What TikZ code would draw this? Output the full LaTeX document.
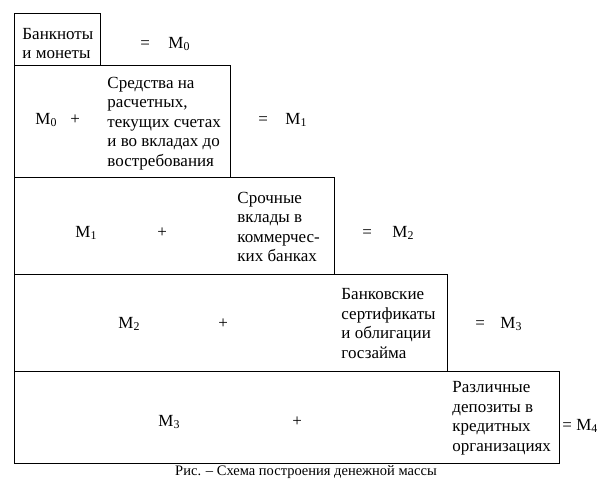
\documentclass[tikz,border=0pt]{standalone}
\usepackage{fontspec}
\setmainfont{Liberation Serif}
\newcommand{\Msub}[1]{M\textsubscript{#1}}

\begin{document}
\begin{tikzpicture}[x=1pt,y=-1pt,line width=0.9pt,
    every node/.style={inner sep=0pt,font=\fontsize{17}{19.5}\selectfont},
    lbl/.style={anchor=base west},
    txt/.style={anchor=west,align=left}]
  \useasboundingbox (0,0) rectangle (612,483);
  % rows of the scheme
  \draw (14,13) rectangle (100,65);
  \draw (14,65) rectangle (230,177);
  \draw (14,177) rectangle (334,274);
  \draw (14,274) rectangle (447,371);
  \draw (14,371) rectangle (559,463);

  \node [txt] (t0) at (22,43.5) {Банкноты\\и монеты};
  \node [lbl] (e0) at (140,48) {=};
  \node [lbl] (r0) at (168,48) {\Msub{0}};

  \node [lbl] (l1) at (35,124) {\Msub{0}};
  \node [lbl] (p1) at (70,124) {+};
  \node [txt] (t1) at (107,123.5) {Средства на\\расчетных,\\текущих счетах\\и во вкладах до\\востребования};
  \node [lbl] (e1) at (258,124) {=};
  \node [lbl] (r1) at (285,124) {\Msub{1}};

  \node [lbl] (l2) at (75,237) {\Msub{1}};
  \node [lbl] (p2) at (157,237) {+};
  \node [txt] (t2) at (237,227) {Срочные\\вклады в\\коммерчес-\\ких банках};
  \node [lbl] (e2) at (362,237) {=};
  \node [lbl] (r2) at (392,237) {\Msub{2}};

  \node [lbl] (l3) at (118,328) {\Msub{2}};
  \node [lbl] (p3) at (218,328) {+};
  \node [txt] (t3) at (341,323.5) {Банковские\\сертификаты\\и облигации\\госзайма};
  \node [lbl] (e3) at (475,328) {=};
  \node [lbl] (r3) at (500,328) {\Msub{3}};

  \node [lbl] (l4) at (158,426) {\Msub{3}};
  \node [lbl] (p4) at (292,426) {+};
  \node [txt] (t4) at (452,418) {Различные\\депозиты в\\кредитных\\организациях};
  \node [lbl] (r4) at (562,430) {= \Msub{4}};

  \node [anchor=base,font=\fontsize{14.5}{17}\selectfont] (cap) at (306,475) {Рис. – Схема построения денежной массы};
\end{tikzpicture}
\end{document}
